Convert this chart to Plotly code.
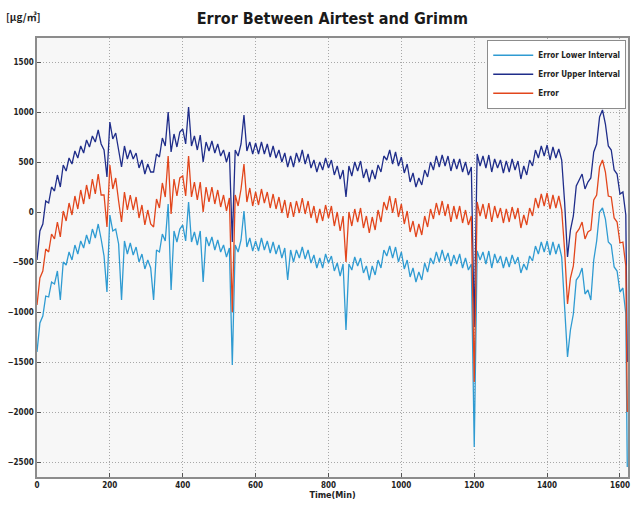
import plotly.graph_objects as go

# time in minutes (every 8 min, plus the last sample)
time = list(range(0, 1617, 8)) + [1620]

error = [
    -930, -660, -590, -370, -400, -220, -270, -100, -250, 10,
    -90, 90, -30, 160, 30, 220, 80, 270, 130, 330,
    180, 380, 170, 170, -150, 470, 230, 340, 110, -100,
    200, 20, 170, 20, 150, -60, 70, -130, 20, -120,
    -150, 130, 40, 290, 150, 560, -20, 330, 160, 340,
    360, 160, 560, 150, 300, 120, 300, 0, 250, 100,
    250, 80, 220, 50, 170, 10, 140, -1000, 170, 60,
    230, 480, 100, 240, 60, 200, 70, 230, 90, 200,
    40, 180, 30, 150, -10, 120, -60, 100, -50, 110,
    -10, 140, -20, 110, -60, 60, -110, 30, -90, 70,
    -60, 60, -140, 0, -190, -40, -500, 0, -140, 30,
    -100, 40, -160, -40, -210, -50, -180, 20, -100, 100,
    20, 160, -10, 140, -50, 80, -120, 10, -200, -90,
    -250, -120, -230, -40, -150, 30, -70, 90, -30, 110,
    -40, 80, -100, 60, -70, 60, -110, 20, -130, -40,
    -1700, 100, -40, 80, -70, 90, -100, 60, -60, 40,
    -110, 30, -100, 50, -70, 40, -160, -30, -130, 40,
    -40, 140, 40, 180, 60, 190, 30, 170, 40, 160,
    20, -380, -920, -660, -540, -210, -170, -100, -270, -200,
    -180, 120, 170, 450, 520, 400, 160, 150, -60, -100,
    -310, -300, -540, -2000,
]

upper = [
    -480, -190, -120, 110, 90, 250, 210, 370, 250, 470,
    410, 540, 480, 610, 540, 660, 590, 720, 650, 760,
    700, 820, 680, 620, 350, 900, 730, 790, 620, 450,
    660, 530, 620, 530, 590, 440, 520, 380, 480, 400,
    400, 580, 550, 740, 660, 1000, 600, 780, 650, 800,
    830, 680, 1050, 660, 760, 620, 770, 500, 700, 610,
    710, 590, 680, 560, 620, 500, 600, -300, 620, 560,
    680, 970, 610, 700, 580, 690, 580, 700, 580, 680,
    550, 660, 540, 620, 500, 590, 450, 560, 450, 590,
    500, 620, 480, 580, 440, 520, 400, 500, 420, 540,
    440, 520, 370, 460, 330, 420, 150, 460, 360, 500,
    410, 510, 340, 430, 300, 420, 330, 470, 400, 560,
    520, 620, 480, 600, 460, 550, 390, 480, 300, 390,
    250, 340, 270, 420, 350, 500, 420, 560, 450, 570,
    460, 560, 410, 530, 430, 530, 400, 500, 370, 450,
    -1150, 580, 460, 560, 440, 570, 400, 530, 440, 520,
    390, 510, 400, 530, 420, 510, 330, 460, 370, 520,
    460, 620, 540, 660, 560, 670, 520, 650, 540, 630,
    520, 100, -450, -180, -40, 260, 320, 380, 230, 300,
    340, 600, 680, 950, 1020, 880, 660, 620, 420, 380,
    180, 200, -30, -1500,
]

lower = [
    -1400, -1110, -1040, -840, -850, -700, -720, -590, -880, -500,
    -530, -400, -480, -330, -420, -290, -360, -230, -320, -170,
    -260, -120, -270, -440, -800, -30, -190, -170, -320, -880,
    -290, -420, -310, -430, -350, -500, -420, -570, -480, -560,
    -880, -380, -400, -220, -290, 80, -780, -190, -300, -170,
    -130, -290, 100, -300, -200, -330, -190, -700, -250, -340,
    -250, -380, -280, -400, -330, -450, -360, -1530, -330, -400,
    -280, 10, -350, -260, -390, -290, -390, -260, -380, -290,
    -410, -300, -420, -330, -460, -360, -680, -380, -500, -380,
    -460, -350, -470, -380, -510, -430, -560, -460, -560, -420,
    -510, -440, -590, -510, -640, -520, -1180, -520, -580, -450,
    -540, -460, -610, -540, -680, -540, -630, -480, -560, -380,
    -440, -340, -460, -350, -500, -400, -570, -480, -650, -560,
    -700, -600, -680, -510, -600, -460, -520, -400, -500, -380,
    -490, -410, -540, -430, -520, -420, -560, -460, -580, -520,
    -2350, -390, -480, -400, -520, -390, -560, -420, -510, -440,
    -560, -450, -550, -430, -520, -450, -610, -520, -580, -440,
    -490, -340, -420, -300, -400, -290, -430, -300, -420, -320,
    -450, -900, -1450, -1180, -1020, -680, -640, -560, -820, -780,
    -880, -480, -290, 0, 40, -70, -300, -330, -550, -590,
    -800, -760, -1020, -2550,
]

series_names = ["Error Lower Interval", "Error Upper Interval", "Error"]
series_colors = ["#2f9bd2", "#1f2d8a", "#e2461c"]

x_ticks = [0, 200, 400, 600, 800, 1000, 1200, 1400, 1600]
y_ticks = [-2500, -2000, -1500, -1000, -500, 0, 500, 1000, 1500]

fig = go.Figure()
for name, vals, col in zip(series_names, [lower, upper, error], series_colors):
    fig.add_trace(go.Scatter(x=time, y=vals, mode="lines", name=name,
                             line=dict(color=col, width=1.3)))

cond = "DejaVu Sans Condensed, Liberation Sans Narrow, Liberation Sans, Arial"
tick_font = dict(family=cond, size=8, color="#222", weight="bold")
grid = dict(showgrid=True, gridcolor="#a8a8a8", griddash="1px,2px", gridwidth=1,
            showline=True, linecolor="#8c8c8c", linewidth=1.5, mirror=True,
            ticks="inside", ticklen=4, tickcolor="#555", zeroline=False,
            tickfont=tick_font)

fig.update_layout(
    width=633, height=508,
    margin=dict(l=37, r=3, t=38, b=31),
    paper_bgcolor="white", plot_bgcolor="#f7f7f7",
    title=dict(text="<b>Error Between Airtest and Grimm</b>", x=0.525, xanchor="center",
               y=0.963, yanchor="middle",
               font=dict(family=cond, size=16, color="#1a1a1a")),
    showlegend=True,
    legend=dict(x=0.997, y=0.996, xanchor="right", yanchor="top",
                bgcolor="white", bordercolor="#8c8c8c", borderwidth=1,
                font=dict(family=cond, size=8, color="#222", weight="bold"),
                tracegroupgap=0, itemwidth=40),
    xaxis=dict(range=[0, 1622], tickvals=x_ticks,
               title=dict(text="<b>Time(Min)</b>", standoff=2,
                          font=dict(family=cond, size=9, color="#222")),
               **grid),
    yaxis=dict(range=[-2650, 1740], tickvals=y_ticks, tickformat="d", **grid),
    annotations=[dict(text="<b>[μg/㎥]</b>", xref="paper", yref="paper", x=-0.055, y=1.05,
                      xanchor="left", yanchor="middle", showarrow=False,
                      font=dict(family="Noto Sans CJK KR, DejaVu Sans Condensed", size=10, color="#222"))],
)

fig.write_html("out.html")
